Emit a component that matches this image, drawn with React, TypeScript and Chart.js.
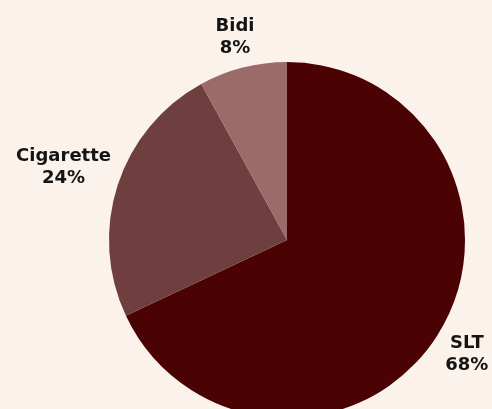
import React, { useEffect, useRef } from "react";
import { Chart, registerables } from "chart.js";

Chart.register(...registerables);

const categories = ["SLT", "Cigarette", "Bidi"];
const shares = [68, 24, 8];
const sliceColors = ["#4a0202", "#6f3e3e", "#9b6b6a"];
const labelTexts = ["68%", "24%", "8%"];

const BG = "#fbf2ec";

const bgPlugin = {
  id: "bgFill",
  beforeDraw(chart: any) {
    const ctx = chart.ctx;
    ctx.save();
    ctx.fillStyle = BG;
    ctx.fillRect(0, 0, chart.width, chart.height);
    ctx.restore();
  },
};

const outsideLabels = {
  id: "outsideLabels",
  afterDatasetsDraw(chart: any) {
    const ctx = chart.ctx;
    const meta = chart.getDatasetMeta(0);
    ctx.save();
    ctx.font = "bold 18px 'DejaVu Sans', sans-serif";
    ctx.fillStyle = "#141414";
    ctx.textAlign = "center";
    ctx.textBaseline = "middle";
    const lineH = 22;
    meta.data.forEach((arc: any, i: number) => {
      const p = arc.getProps(["x", "y", "startAngle", "endAngle", "outerRadius"], true);
      const mid = (p.startAngle + p.endAngle) / 2;
      const c = Math.cos(mid);
      const s = Math.sin(mid);
      const lines = [categories[i], labelTexts[i]];
      const w = Math.max(...lines.map((l) => ctx.measureText(l).width));
      const h = lines.length * lineH;
      const proj = Math.abs(c) * (w / 2) + Math.abs(s) * (h / 2);
      const d = p.outerRadius + 5 + proj;
      const cx = p.x + c * d;
      const cy = p.y + s * d;
      lines.forEach((l, k) => {
        ctx.fillText(l, cx, cy + (k - (lines.length - 1) / 2) * lineH);
      });
    });
    ctx.restore();
  },
};

export default function App() {
  const ref = useRef<HTMLCanvasElement | null>(null);
  useEffect(() => {
    if (!ref.current) return;
    const chart = new Chart(ref.current, {
      type: "pie",
      data: {
        labels: categories,
        datasets: [
          {
            data: shares,
            backgroundColor: sliceColors,
            borderWidth: 0,
          },
        ],
      },
      options: {
        animation: false,
        responsive: false,
        devicePixelRatio: 1,
        layout: { padding: { left: 109, right: 27, top: 62, bottom: 12 } },
        plugins: {
          legend: { display: false },
          tooltip: { enabled: false },
        },
      },
      plugins: [bgPlugin, outsideLabels],
    });
    return () => chart.destroy();
  }, []);
  return (
    <div
      style={{
        position: "absolute",
        left: 0,
        top: 0,
        width: 492,
        height: 409,
        overflow: "hidden",
        background: BG,
      }}
    >
      <canvas ref={ref} width={492} height={430} style={{ display: "block" }} />
    </div>
  );
}
